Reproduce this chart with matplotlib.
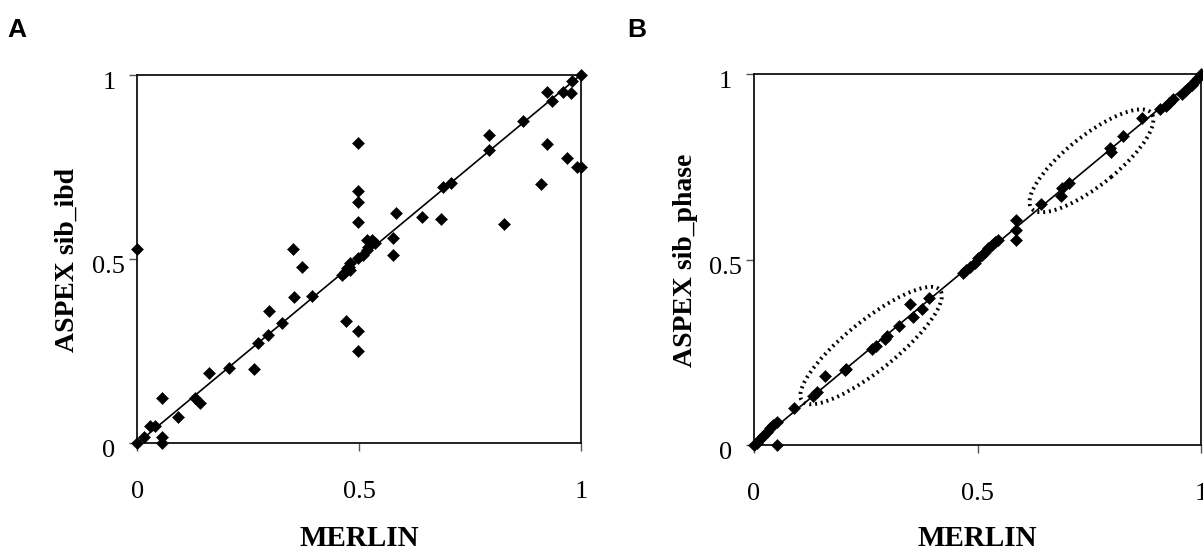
import matplotlib
matplotlib.use("Agg")
import matplotlib.pyplot as plt
from matplotlib.patches import Ellipse
from matplotlib.transforms import ScaledTranslation

# ---------------- data ----------------
merlin_A = [0.0, 0.0, 0.015, 0.029, 0.040, 0.056, 0.055, 0.056, 0.091, 0.130, 0.141,
            0.161, 0.207, 0.263, 0.273, 0.295, 0.296, 0.327, 0.354, 0.351, 0.372, 0.393,
            0.470, 0.498, 0.498, 0.461, 0.468, 0.472, 0.476, 0.479, 0.479, 0.498, 0.509,
            0.517, 0.521, 0.517, 0.528, 0.536, 0.498, 0.498, 0.498, 0.498, 0.577, 0.577,
            0.583, 0.642, 0.684, 0.690, 0.706, 0.793, 0.793, 0.827, 0.870, 0.909, 0.923,
            0.924, 0.935, 0.959, 0.977, 0.980, 1.0, 0.968, 0.990, 0.999]
aspex_ibd = [0.0, 0.527, 0.016, 0.048, 0.048, 0.124, 0.018, 0.0, 0.070, 0.122, 0.109,
             0.192, 0.203, 0.201, 0.271, 0.294, 0.360, 0.327, 0.398, 0.527, 0.479, 0.400,
             0.332, 0.306, 0.251, 0.457, 0.466, 0.475, 0.479, 0.470, 0.488, 0.502, 0.511,
             0.524, 0.533, 0.552, 0.552, 0.543, 0.600, 0.655, 0.684, 0.815, 0.556, 0.511,
             0.626, 0.613, 0.608, 0.696, 0.705, 0.797, 0.837, 0.594, 0.875, 0.703, 0.812,
             0.952, 0.929, 0.952, 0.950, 0.982, 1.0, 0.775, 0.749, 0.749]

merlin_B = [0.0, 0.006, 0.013, 0.021, 0.028, 0.036, 0.043, 0.052, 0.052, 0.089, 0.131,
            0.140, 0.159, 0.203, 0.206, 0.263, 0.272, 0.293, 0.297, 0.325, 0.355, 0.350,
            0.375, 0.392, 0.468, 0.475, 0.483, 0.494, 0.502, 0.509, 0.517, 0.524, 0.532,
            0.539, 0.546, 0.586, 0.586, 0.587, 0.643, 0.686, 0.690, 0.705, 0.796, 0.799,
            0.826, 0.869, 0.908, 0.922, 0.929, 0.937, 0.957, 0.964, 0.972, 0.979, 0.987,
            0.994, 1.0]
aspex_phase = [0.0, 0.006, 0.016, 0.024, 0.036, 0.045, 0.054, 0.063, 0.0, 0.101, 0.131,
               0.142, 0.186, 0.202, 0.206, 0.260, 0.267, 0.286, 0.294, 0.321, 0.346, 0.380,
               0.367, 0.397, 0.463, 0.472, 0.481, 0.490, 0.503, 0.512, 0.521, 0.530, 0.539,
               0.548, 0.553, 0.606, 0.580, 0.553, 0.649, 0.670, 0.693, 0.705, 0.800, 0.791,
               0.833, 0.881, 0.905, 0.914, 0.923, 0.932, 0.946, 0.953, 0.962, 0.971, 0.980,
               0.989, 1.0]

ticks = [0, 0.5, 1]
tick_labels = ["0", "0.5", "1"]
x_label = "MERLIN"
y_labels = ["ASPEX sib_ibd", "ASPEX sib_phase"]
panel_letters = ["A", "B"]
# ellipses (center_x, center_y, semi-major, semi-minor) in data units
ellipses_B = [(0.262, 0.268, 0.215, 0.062), (0.755, 0.766, 0.186, 0.062)]

# ---------------- figure ----------------
W, H = 1203, 550
fig = plt.figure(figsize=(W / 100, H / 100), dpi=100)
fig.patch.set_facecolor("white")

serif = ["Liberation Serif", "DejaVu Serif"]
sans = ["Liberation Sans", "DejaVu Sans"]


def px_axes(x0, x1, ytop, ybot):
    return fig.add_axes([x0 / W, (H - ybot) / H, (x1 - x0) / W, (ybot - ytop) / H])


axA = px_axes(137.3, 581.0, 74.7, 443.3)
axB = px_axes(754.0, 1201.0, 74.0, 445.0)

datasets = [(axA, merlin_A, aspex_ibd), (axB, merlin_B, aspex_phase)]
for i, (ax, xs, ys) in enumerate(datasets):
    ax.set_xlim(0, 1)
    ax.set_ylim(0, 1)
    ax.plot([0, 1], [0, 1], color="black", lw=1.2, zorder=2, clip_on=False)
    ax.plot(xs, ys, linestyle="none", marker="D", ms=5.8, color="black",
            mec="black", mew=0.4, zorder=3, clip_on=False)
    ax.set_xticks(ticks)
    ax.set_yticks(ticks)
    ax.set_xticklabels(tick_labels, fontfamily=serif, fontsize=19)
    ax.set_yticklabels(tick_labels, fontfamily=serif, fontsize=19, ha="center")
    ax.tick_params(axis="both", direction="out", length=5.5, width=1.0,
                   color="#555555")
    ax.tick_params(axis="x", pad=22)
    ax.tick_params(axis="y", pad=15)
    off = ScaledTranslation(0, -4 / 72, fig.dpi_scale_trans)
    for lab in ax.get_yticklabels():
        lab.set_transform(lab.get_transform() + off)
    for sp in ax.spines.values():
        sp.set_linewidth(1.3)
        sp.set_color("#111111")

for (cx, cy, a, b) in ellipses_B:
    e = Ellipse((cx, cy), width=2 * a, height=2 * b, angle=45, fill=False,
                edgecolor="black", lw=2.8, linestyle=(0, (0.5, 1.0)), zorder=4)
    axB.add_patch(e)

# axis labels
for cx in (359.0, 977.5):
    fig.text(cx / W, 1 - 538 / H, x_label, ha="center", va="center",
             fontfamily=serif, fontsize=21, fontweight="bold")
fig.text(67 / W, 1 - 260 / H, y_labels[0], rotation=90, ha="center", va="center",
         fontfamily=serif, fontsize=20, fontweight="bold")
fig.text(685 / W, 1 - 260 / H, y_labels[1], rotation=90, ha="center", va="center",
         fontfamily=serif, fontsize=20, fontweight="bold")

# panel letters
fig.text(17 / W, 1 - 30 / H, panel_letters[0], ha="center", va="center",
         fontfamily=sans, fontsize=19, fontweight="bold")
fig.text(637 / W, 1 - 30 / H, panel_letters[1], ha="center", va="center",
         fontfamily=sans, fontsize=19, fontweight="bold")

fig.savefig("out.png", dpi=100, facecolor="white")
